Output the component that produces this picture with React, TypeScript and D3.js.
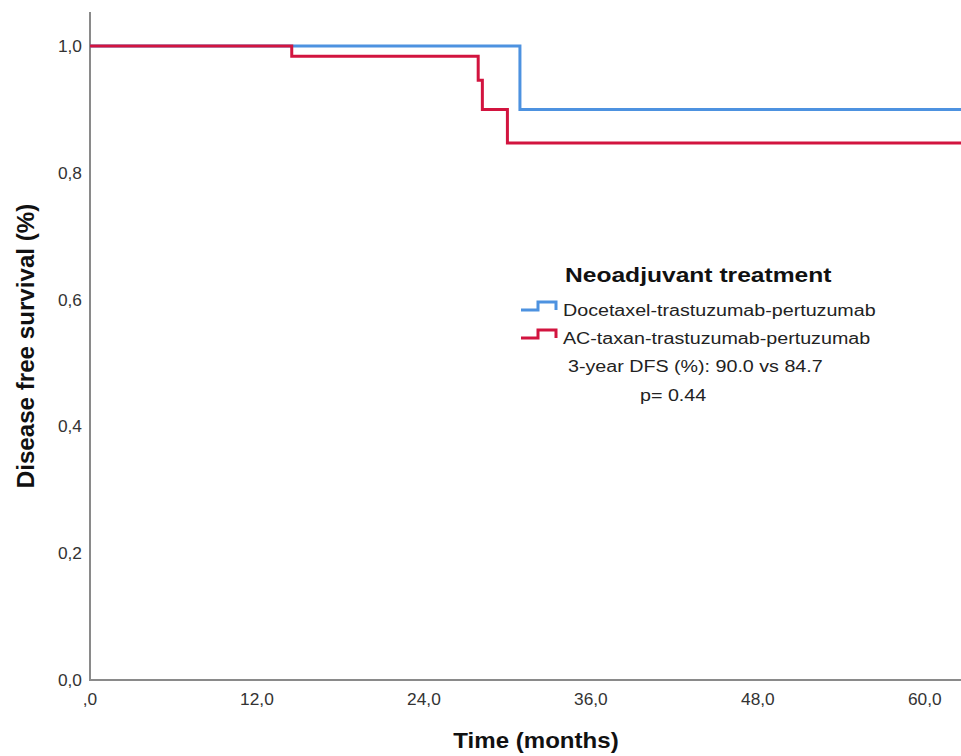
import React from 'react';
import * as d3 from 'd3';

// Kaplan-Meier step data: [month, survival]
const docetaxelSteps: [number, number][] = [
  [0, 1.0],
  [30.9, 1.0],
  [30.9, 0.9],
  [62.6, 0.9],
];
const acTaxanSteps: [number, number][] = [
  [0, 1.0],
  [14.5, 1.0],
  [14.5, 0.984],
  [27.9, 0.984],
  [27.9, 0.946],
  [28.2, 0.946],
  [28.2, 0.9],
  [30.0, 0.9],
  [30.0, 0.847],
  [62.6, 0.847],
];
const xTicks = [0, 12, 24, 36, 48, 60];
const yTicks = [0, 0.2, 0.4, 0.6, 0.8, 1.0];
const seriesNames = ['Docetaxel-trastuzumab-pertuzumab', 'AC-taxan-trastuzumab-pertuzumab'];
const seriesColors = ['#4d92e0', '#d2143f'];
const legendTitle = 'Neoadjuvant treatment';
const noteLines = ['3-year DFS (%): 90.0 vs 84.7', 'p= 0.44'];

// SPSS style decimal comma, zero x label shown as ",0"
const fmtY = (v: number) => v.toFixed(1).replace('.', ',');
const fmtX = (v: number) => (v === 0 ? ',0' : v.toFixed(1).replace('.', ','));

const App = () => {
  const W = 961;
  const H = 756;
  const x = d3.scaleLinear().domain([0, 62.6]).range([90, 961]);
  const y = d3.scaleLinear().domain([0, 1]).range([680, 46]);
  const line = d3
    .line<[number, number]>()
    .x(d => x(d[0]))
    .y(d => y(d[1]));
  const font = '"Liberation Sans", Arial, sans-serif';
  const series = [docetaxelSteps, acTaxanSteps];
  const stretch = 1.23;

  return (
    <svg
      width={W}
      height={H}
      style={{ position: 'absolute', left: 0, top: 0, background: '#fff' }}
      fontFamily={font}
    >
      {/* axes */}
      <line x1={90} x2={90} y1={12} y2={681} stroke="#8a8a8a" strokeWidth={2} />
      <line x1={89} x2={961} y1={680} y2={680} stroke="#8a8a8a" strokeWidth={2} />

      {yTicks.map(t => (
        <text
          key={t}
          transform={`translate(82,${y(t) + 6}) scale(1.05,1)`}
          textAnchor="end"
          fontSize={16.5}
          fill="#333"
        >
          {fmtY(t)}
        </text>
      ))}
      {xTicks.map(t => (
        <text
          key={t}
          transform={`translate(${x(t)},705) scale(1.05,1)`}
          textAnchor="middle"
          fontSize={16.5}
          fill="#333"
        >
          {fmtX(t)}
        </text>
      ))}

      <text
        transform="translate(34,346) rotate(-90) scale(1.05,1)"
        textAnchor="middle"
        fontSize={23}
        fontWeight="bold"
        fill="#111"
      >
        Disease free survival (%)
      </text>
      <text
        transform="translate(536,748) scale(1.12,1)"
        textAnchor="middle"
        fontSize={21.5}
        fontWeight="bold"
        fill="#111"
      >
        Time (months)
      </text>

      {series.map((s, i) => (
        <path key={i} d={line(s) || ''} fill="none" stroke={seriesColors[i]} strokeWidth={3} />
      ))}

      {/* legend */}
      <text transform={`translate(565,282) scale(${stretch},1)`} fontSize={20} fontWeight="bold" fill="#111">
        {legendTitle}
      </text>
      {seriesNames.map((n, i) => {
        const by = 310 + i * 28;
        return (
          <g key={n}>
            <path
              d={`M521,${by}H538V${by - 8}H556V${by}`}
              fill="none"
              stroke={seriesColors[i]}
              strokeWidth={3}
            />
            <text transform={`translate(563,${by + 6}) scale(${stretch},1)`} fontSize={16} fill="#222">
              {n}
            </text>
          </g>
        );
      })}
      <text transform={`translate(568,372) scale(${stretch},1)`} fontSize={16} fill="#222">
        {noteLines[0]}
      </text>
      <text transform={`translate(640,401) scale(${stretch},1)`} fontSize={16} fill="#222">
        {noteLines[1]}
      </text>
    </svg>
  );
};

export default App;
